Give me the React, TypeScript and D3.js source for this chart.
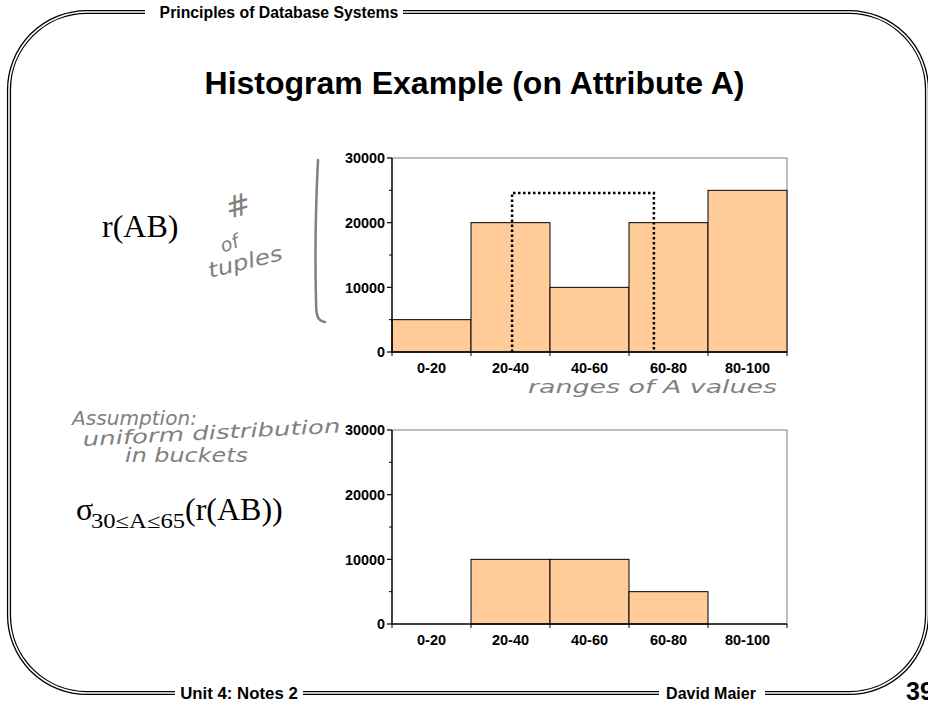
import React from "react";
import * as d3 from "d3";

const categories = ["0-20", "20-40", "40-60", "60-80", "80-100"];
const binEdges = [0, 20, 40, 60, 80, 100];
const countsAll = [5000, 20000, 10000, 20000, 25000];
const countsSelected = [0, 10000, 10000, 5000, 0];
const yTicks = [0, 10000, 20000, 30000];
const yMinorTicks = [5000, 15000, 25000];
const selectionRange = [30.4, 66.3];
const selectionHeight = 24600;

const W = 928;
const H = 702;
const ARIAL = "Arial, 'Liberation Sans', sans-serif";
const TIMES = "'Times New Roman', 'Liberation Serif', serif";
const HAND = "'DejaVu Sans', sans-serif";
const HAND_COLOR = "#808080";

function Histogram({ values, top, bottom, selection }: { values: number[]; top: number; bottom: number; selection?: boolean }) {
  const x = d3.scaleLinear().domain([0, 100]).range([392, 787]);
  const y = d3.scaleLinear().domain([0, 30000]).range([bottom, top]);
  const selPath = d3.path();
  if (selection) {
    selPath.moveTo(x(selectionRange[0]), y(0));
    selPath.lineTo(x(selectionRange[0]), y(selectionHeight));
    selPath.lineTo(x(selectionRange[1]), y(selectionHeight));
    selPath.lineTo(x(selectionRange[1]), y(0));
  }
  return (
    <g>
      <line x1={x(0)} x2={x(100)} y1={y(30000)} y2={y(30000)} stroke="#808080" strokeWidth={1} />
      <line x1={x(100)} x2={x(100)} y1={y(30000)} y2={y(0)} stroke="#808080" strokeWidth={1} />
      {values.map((v, i) =>
        v > 0 ? (
          <rect
            key={i}
            x={x(binEdges[i])}
            y={y(v)}
            width={x(binEdges[i + 1]) - x(binEdges[i])}
            height={y(0) - y(v)}
            fill="#FFCC99"
            stroke="#000"
            strokeWidth={1}
          />
        ) : null
      )}
      {selection && (
        <path d={selPath.toString()} fill="none" stroke="#000" strokeWidth={2.5} strokeDasharray="2.5,2.5" />
      )}
      <line x1={x(0)} x2={x(0)} y1={y(30000)} y2={y(0)} stroke="#000" strokeWidth={1.5} />
      <line x1={x(0)} x2={x(100)} y1={y(0)} y2={y(0)} stroke="#000" strokeWidth={1.5} />
      {yTicks.map((t) => (
        <g key={t}>
          <line x1={x(0) - 5} x2={x(0)} y1={y(t)} y2={y(t)} stroke="#000" strokeWidth={1.2} />
          <text x={x(0) - 7} y={y(t)} dy="0.36em" textAnchor="end" fontFamily={ARIAL} fontWeight="bold" fontSize={14.4}>
            {t}
          </text>
        </g>
      ))}
      {yMinorTicks.map((t) => (
        <line key={t} x1={x(0) - 3} x2={x(0)} y1={y(t)} y2={y(t)} stroke="#000" strokeWidth={1} />
      ))}
      {binEdges.map((e) => (
        <line key={e} x1={x(e)} x2={x(e)} y1={y(0)} y2={y(0) + 4} stroke="#000" strokeWidth={1} />
      ))}
      {categories.map((c, i) => (
        <text
          key={c}
          x={(x(binEdges[i]) + x(binEdges[i + 1])) / 2}
          y={y(0) + 16}
          dy="0.36em"
          textAnchor="middle"
          fontFamily={ARIAL}
          fontWeight="bold"
          fontSize={14.5}
        >
          {c}
        </text>
      ))}
    </g>
  );
}

export default function App() {
  return (
    <svg width={W} height={H} style={{ position: "absolute", left: 0, top: 0, background: "#fff" }}>
      <rect x={0} y={0} width={W} height={H} fill="#fff" />
      {/* frame: double line */}
      <rect x={9} y={12} width={918} height={681} rx={78} ry={78} fill="none" stroke="#000" strokeWidth={4.2} />
      <rect x={9} y={12} width={918} height={681} rx={78} ry={78} fill="none" stroke="#fff" strokeWidth={1.6} />
      {/* gaps for header/footer text */}
      <rect x={145} y={4} width={258} height={16} fill="#fff" />
      <rect x={175} y={685} width={128} height={16} fill="#fff" />
      <rect x={659} y={685} width={106} height={16} fill="#fff" />
      <text x={279} y={12} dy="0.36em" textAnchor="middle" fontFamily={ARIAL} fontWeight="bold" fontSize={15.8}>
        Principles of Database Systems
      </text>
      <text x={239} y={693} dy="0.36em" textAnchor="middle" fontFamily={ARIAL} fontWeight="bold" fontSize={16.8}>
        Unit 4: Notes 2
      </text>
      <text x={711} y={693} dy="0.36em" textAnchor="middle" fontFamily={ARIAL} fontWeight="bold" fontSize={16}>
        David Maier
      </text>
      <text x={906} y={700} fontFamily={ARIAL} fontWeight="bold" fontSize={25}>
        39
      </text>

      <text x={474.5} y={94} textAnchor="middle" fontFamily={ARIAL} fontWeight="bold" fontSize={32}>
        Histogram Example (on Attribute A)
      </text>

      <text x={102} y={237} fontFamily={TIMES} fontSize={32}>
        r(AB)
      </text>
      <text x={76} y={520} fontFamily={TIMES} fontSize={32}>
        σ
      </text>
      <text x={91} y={528} fontFamily={TIMES} fontSize={20} textLength={94} lengthAdjust="spacingAndGlyphs">
        30≤A≤65
      </text>
      <text x={185} y={520} fontFamily={TIMES} fontSize={32}>
        (r(AB))
      </text>

      {/* handwritten annotations */}
      <g fill={HAND_COLOR} fontFamily={HAND} fontStyle="oblique">
        <text x={238} y={216} fontSize={30} textAnchor="middle" transform="rotate(-15 238 206)">#</text>
        <text x={229} y={250} fontSize={19} textAnchor="middle" transform="rotate(-20 229 242)">of</text>
        <text x={210} y={278} fontSize={21} textLength={76} lengthAdjust="spacingAndGlyphs" transform="rotate(-14 210 278)">tuples</text>
        <text x={528} y={393} fontSize={18} textLength={249} lengthAdjust="spacingAndGlyphs">ranges of  A values</text>
        <text x={72} y={425} fontSize={20} textLength={125} lengthAdjust="spacingAndGlyphs">Assumption:</text>
        <text x={83} y={446} fontSize={19} textLength={258} lengthAdjust="spacingAndGlyphs" transform="rotate(-3 83 446)">uniform distribution</text>
        <text x={125} y={462} fontSize={19} textLength={123} lengthAdjust="spacingAndGlyphs">in buckets</text>
      </g>
      <path d="M318,160 C316,200 315,260 316,300 C316,315 317,321 325,322" fill="none" stroke={HAND_COLOR} strokeWidth={2.5} strokeLinecap="round" />

      <Histogram values={countsAll} top={158} bottom={352} selection />
      <Histogram values={countsSelected} top={430} bottom={624} />
    </svg>
  );
}
